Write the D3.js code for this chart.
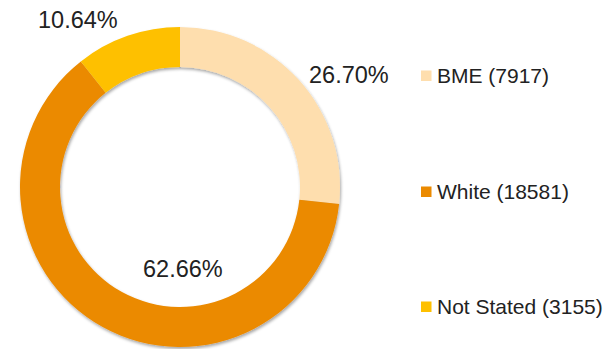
<!DOCTYPE html>
<html>
<head>
<meta charset="utf-8">
<script src="https://cdn.jsdelivr.net/npm/d3@7"></script>
<style>
  html, body { margin: 0; padding: 0; background: #fff; }
  svg { display: block; }
  text { font-family: "Liberation Sans", Arial, sans-serif; fill: #222; }
</style>
</head>
<body>
<svg id="chart" width="605" height="349"></svg>
<script>
// Ethnicity breakdown
const categories = ["BME", "White", "Not Stated"];
const counts = [7917, 18581, 3155];
const colors = ["#FEDEAE", "#EB8A00", "#FEC000"];

const svg = d3.select("#chart");
const W = 605, H = 349;
const cx = 180, cy = 187;
const outerR = 160, innerR = 120;

// soft shadow under the ring
const defs = svg.append("defs");
const f = defs.append("filter").attr("id", "ringShadow")
  .attr("x", "-20%").attr("y", "-20%").attr("width", "140%").attr("height", "140%");
f.append("feDropShadow")
  .attr("dx", 1).attr("dy", 2).attr("stdDeviation", 1.8)
  .attr("flood-color", "#000").attr("flood-opacity", 0.35);

const total = d3.sum(counts);
const data = categories.map((c, i) => ({ name: c, value: counts[i], color: colors[i] }));

const pie = d3.pie().sort(null).value(d => d.value);
const arcs = pie(data);
const arc = d3.arc().innerRadius(innerR).outerRadius(outerR);

const g = svg.append("g").attr("transform", `translate(${cx},${cy})`);
g.append("g").attr("filter", "url(#ringShadow)")
  .selectAll("path").data(arcs).join("path")
  .attr("d", arc)
  .attr("fill", d => d.data.color);

// percentage labels placed around the ring
const fmt = v => (v / total * 100).toFixed(2) + "%";
const labelPos = [
  { x: 309, y: 83, anchor: "start" },   // BME
  { x: 143, y: 277, anchor: "start" },  // White
  { x: 38, y: 28, anchor: "start" }     // Not Stated
];
svg.append("g").selectAll("text").data(data).join("text")
  .attr("x", (d, i) => labelPos[i].x)
  .attr("y", (d, i) => labelPos[i].y)
  .attr("text-anchor", (d, i) => labelPos[i].anchor)
  .style("font-size", "23.5px")
  .text(d => fmt(d.value));

// legend
const legendY = [76, 192, 307];
const leg = svg.append("g").selectAll("g").data(data).join("g")
  .attr("transform", (d, i) => `translate(421,${legendY[i]})`);
leg.append("rect")
  .attr("x", 0).attr("y", -5.5).attr("width", 10.5).attr("height", 10.5)
  .attr("fill", d => d.color);
leg.append("text")
  .attr("x", 16).attr("y", 7)
  .style("font-size", "21px")
  .text(d => `${d.name} (${d.value})`);
</script>
</body>
</html>
